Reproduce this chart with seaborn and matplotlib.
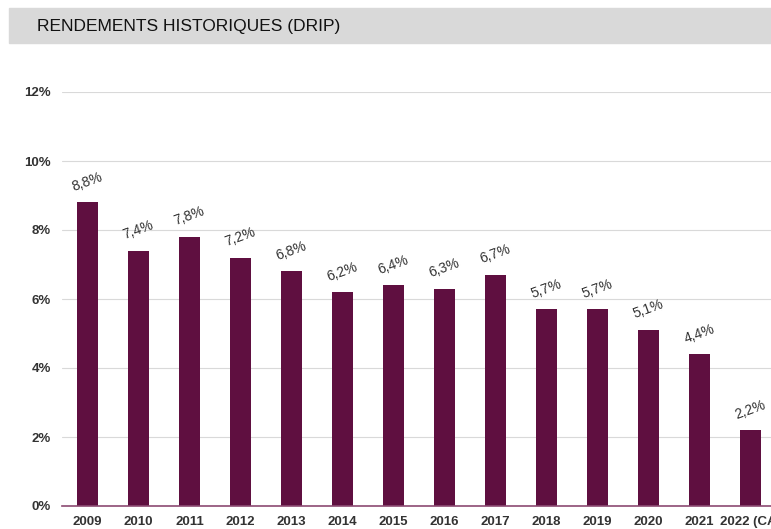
import matplotlib
matplotlib.use("Agg")
import matplotlib.pyplot as plt
import matplotlib.patches as mpatches
import pandas as pd
import seaborn as sns

# ===================== DATA =====================
years = ["2009", "2010", "2011", "2012", "2013", "2014", "2015",
         "2016", "2017", "2018", "2019", "2020", "2021", "2022 (CA)"]
rendements = [8.8, 7.4, 7.8, 7.2, 6.8, 6.2, 6.4, 6.3, 6.7, 5.7, 5.7, 5.1, 4.4, 2.2]
labels = ["8,8%", "7,4%", "7,8%", "7,2%", "6,8%", "6,2%", "6,4%",
          "6,3%", "6,7%", "5,7%", "5,7%", "5,1%", "4,4%", "2,2%"]
yticks = [0, 2, 4, 6, 8, 10, 12]

df = pd.DataFrame({"annee": years, "rendement": rendements})

# ===================== STYLE =====================
sns.set_theme(style="white")
plt.rcParams["font.family"] = ["Liberation Sans", "DejaVu Sans"]

bar_color = "#5f0f40"
text_color = "#333333"

fig = plt.figure(figsize=(7.71, 5.29), dpi=100)

# title band
fig.patches.append(mpatches.Rectangle((9 / 771, 1 - 43 / 529), 762 / 771, 35 / 529,
                                      transform=fig.transFigure, color="#d9d9d9", zorder=0))
fig.text(37 / 771, 1 - 26 / 529, "RENDEMENTS HISTORIQUES (DRIP)",
         fontsize=12.5, color="#111111", va="center", ha="left")

ax = fig.add_axes([62 / 771, 1 - 506 / 529, 714 / 771, 414 / 529])

# ===================== BARS =====================
sns.barplot(data=df, x="annee", y="rendement", color=bar_color,
            saturation=1, width=0.4, linewidth=0, ax=ax, zorder=3)

for i, (v, lab) in enumerate(zip(rendements, labels)):
    ax.text(i, v + 0.25, lab, rotation=20, ha="center", va="bottom",
            fontsize=10, color=text_color, zorder=4)

# ===================== AXES =====================
ax.set_xlim(-0.5, len(years) - 0.5)
ax.set_ylim(0, 12)
ax.set_yticks(yticks)
ax.set_yticklabels([f"{t}%" for t in yticks])
ax.grid(axis="y", color="#d9d9d9", linewidth=0.8, zorder=0)
ax.set_xlabel("")
ax.set_ylabel("")

for side in ["top", "right", "left"]:
    ax.spines[side].set_visible(False)
ax.spines["bottom"].set_color("#8c4a72")
ax.spines["bottom"].set_linewidth(1.2)
ax.spines["bottom"].set_zorder(4)

ax.tick_params(axis="both", length=0, labelsize=9.5, colors=text_color)
ax.tick_params(axis="x", pad=7)
ax.tick_params(axis="y", pad=8)
for t in ax.get_xticklabels() + ax.get_yticklabels():
    t.set_fontweight("bold")

fig.savefig("out.png", dpi=100)
plt.close(fig)
